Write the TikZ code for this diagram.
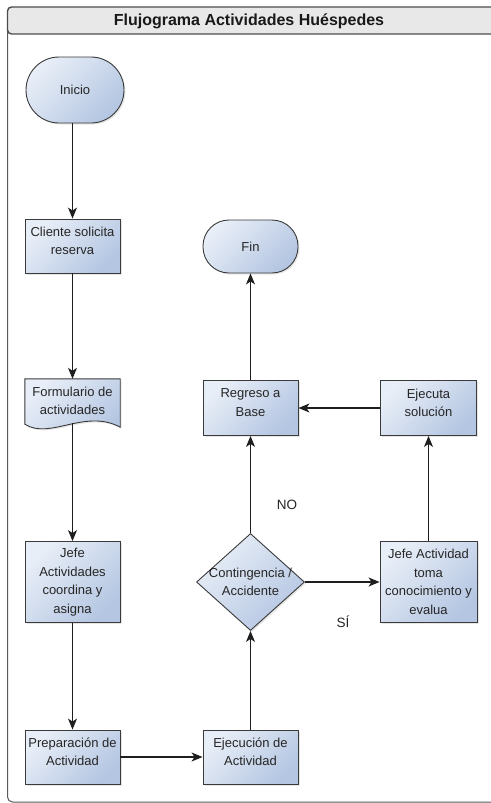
\documentclass[tikz,border=0pt]{standalone}
\usepackage{fontspec}
\setmainfont{Liberation Sans}
\usetikzlibrary{positioning, shapes.geometric, arrows.meta, shadows}

\definecolor{boxlight}{HTML}{E8EEF7}
\definecolor{boxdark}{HTML}{B4C6E2}
\definecolor{boxline}{HTML}{3A3A3A}
\definecolor{linecol}{HTML}{1E1E1E}
\definecolor{barfill}{HTML}{E8E8E8}

\tikzset{
  proc/.style={rectangle, draw=boxline, line width=0.9pt,
    top color=boxlight, bottom color=boxdark, shading angle=45,
    minimum width=95, minimum height=55, inner sep=1pt, align=center,
    text=black!85, font=\fontsize{13}{18.5}\selectfont,
    drop shadow={shadow xshift=1.5pt, shadow yshift=-1.5pt, opacity=0.2}},
  term/.style={proc, rounded corners=26pt},
  docbox/.style={rectangle, minimum width=95, minimum height=44, inner sep=1pt,
    align=center, text=black!85, font=\fontsize{13}{18.5}\selectfont},
  flow/.style={draw=linecol, line width=1.1pt,
    -{Stealth[length=11pt, width=9pt, inset=3pt]}},
  tag/.style={font=\fontsize{13.5}{16}\selectfont, text=black!85},
}

\begin{document}
\begin{tikzpicture}[x=1pt, y=-1pt]
    \useasboundingbox (0,0) rectangle (490,803);

    % --- Frame and title bar ---
    \draw[draw=black!65, line width=1pt, rounded corners=5pt] (7.5,20) -- (7.5,802) -- (500,802);
    \filldraw[fill=barfill, draw=black!70, line width=1.4pt, rounded corners=4pt]
        (7.5,34) -- (7.5,7) -- (500,7) -- (500,34) -- cycle;
    \node[font=\bfseries\fontsize{16}{18}\selectfont, text=black!90] (title) at (249,21) {Flujograma Actividades Huéspedes};

    % --- Left column ---
    \node[term, minimum width=98, minimum height=66, rounded corners=33pt] (ini) at (75,90) {Inicio};
    \node[proc, minimum height=54] (cli) at (72.5,246) {Cliente solicita\\reserva\\[-8pt]};
    \node[docbox] (form) at (72.5,401) {};
    \path[draw=boxline, line width=0.9pt, top color=boxlight, bottom color=boxdark, shading angle=45,
          drop shadow={shadow xshift=1.5pt, shadow yshift=-1.5pt, opacity=0.2}]
        (form.north west) -- (form.north east) -- ([yshift=-4pt]form.south east)
        .. controls ([xshift=-35pt, yshift=15pt]form.south east) and ([xshift=25pt, yshift=-17pt]form.south west)
        .. ([yshift=-1pt]form.south west) -- cycle;
    \node[docbox] at (form) {Formulario de\\actividades};
    \node[proc, minimum height=81] (jefe) at (72.5,582) {Jefe\\Actividades\\coordina y\\asigna};
    \node[proc, minimum height=54] (prep) at (72.5,757) {Preparación de\\Actividad\\[-8pt]};

    % --- Middle column ---
    \node[proc, minimum height=54] (ejec) at (250.5,757) {Ejecución de\\Actividad\\[-8pt]};
    \node[diamond, draw=boxline, line width=0.9pt, top color=boxlight, bottom color=boxdark, shading angle=45,
          drop shadow={shadow xshift=1.5pt, shadow yshift=-1.5pt, opacity=0.2},
          minimum width=108, minimum height=97, inner sep=0pt,
          label={[align=center, text=black!85, font=\fontsize{13}{18.5}\selectfont]center:Contingencia /\\Accidente}]
        (cont) at (250.5,582) {};
    \node[proc] (reg) at (250.5,408) {Regreso a\\Base\\[-8pt]};
    \node[term, minimum height=53] (fin) at (250.5,246.5) {Fin};

    % --- Right column ---
    \node[proc, minimum width=97, minimum height=81] (jact) at (428.5,582) {Jefe Actividad\\toma\\conocimiento y\\evalua};
    \node[proc, minimum width=96] (ejsol) at (428.5,408) {Ejecuta\\solución\\[-8pt]};

    % --- Connectors ---
    \draw[flow] (ini.south -| cli.north) -- (cli.north);
    \draw[flow] (cli) -- (form);
    \draw[flow] (form) -- (jefe);
    \draw[flow] (jefe) -- (prep);
    \draw[flow] (prep) -- (ejec);
    \draw[flow] (ejec) -- (cont);
    \draw[flow] (cont) -- (reg);
    \draw[flow] (cont) -- (jact);
    \draw[flow] (jact) -- (ejsol);
    \draw[flow] (ejsol) -- (reg);
    \draw[flow] (reg) -- (fin);

    % --- Branch labels ---
    \node[tag] (no) at (287,505) {NO};
    \node[tag] (si) at (343,622) {SÍ};

\end{tikzpicture}
\end{document}
